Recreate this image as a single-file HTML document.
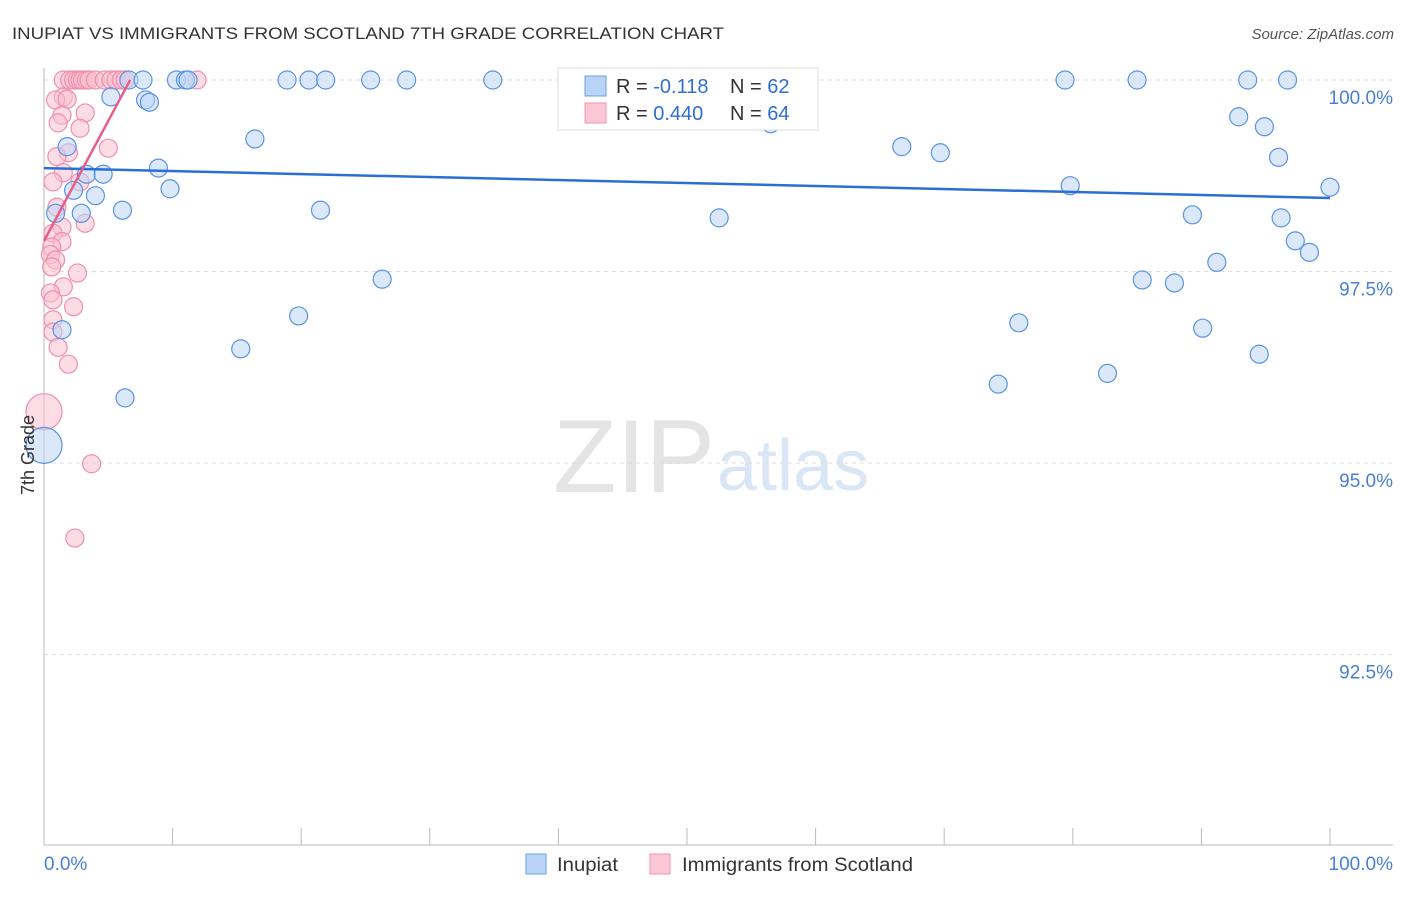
<!DOCTYPE html>
<html><head><meta charset="utf-8">
<style>
body{margin:0;background:#fff;font-family:"Liberation Sans",sans-serif;}
svg text{font-family:"Liberation Sans",sans-serif;}
</style></head>
<body>
<svg id="chart" width="1406" height="892" xmlns="http://www.w3.org/2000/svg">
<text x="12" y="39" font-size="17" fill="#333" textLength="712" lengthAdjust="spacingAndGlyphs">INUPIAT VS IMMIGRANTS FROM SCOTLAND 7TH GRADE CORRELATION CHART</text>
<text x="1394" y="39" font-size="15" fill="#555" text-anchor="end" font-style="italic">Source: ZipAtlas.com</text>
<g>
<text x="553" y="492" font-size="104" fill="#e4e4e4" font-family="Liberation Serif,serif" textLength="162" lengthAdjust="spacingAndGlyphs">ZIP</text>
<text x="717" y="490" font-size="72" fill="#dae6f6">atlas</text>
</g>
<g id="grid"></g>
<g id="axes"></g>
<g id="marks"></g>
<text transform="translate(34,455) rotate(-90)" font-size="18" fill="#333" text-anchor="middle">7th Grade</text>
<g>
<rect x="558" y="68" width="260" height="62" fill="#fff" stroke="#ddd"/>
<rect x="585" y="76" width="21" height="20" fill="#b8d3f5" stroke="#6a9fe0"/>
<rect x="585" y="103" width="21" height="20" fill="#fbc6d5" stroke="#ef94b0"/>
<text x="616" y="93" font-size="20" fill="#333">R = <tspan fill="#2f6fd0"> -0.118</tspan></text>
<text x="730" y="93" font-size="20" fill="#333">N = <tspan fill="#2f6fd0"> 62</tspan></text>
<text x="616" y="120" font-size="20" fill="#333">R = <tspan fill="#2f6fd0">0.440</tspan></text>
<text x="730" y="120" font-size="20" fill="#333">N = <tspan fill="#2f6fd0">64</tspan></text>
</g>
<g>
<rect x="526" y="854" width="20" height="20" fill="#b8d3f5" stroke="#6a9fe0"/>
<text x="557" y="871" font-size="19" fill="#333" textLength="61" lengthAdjust="spacingAndGlyphs">Inupiat</text>
<rect x="650" y="854" width="20" height="20" fill="#fbc6d5" stroke="#ef94b0"/>
<text x="682" y="871" font-size="19" fill="#333" textLength="231" lengthAdjust="spacingAndGlyphs">Immigrants from Scotland</text>
</g>
</svg>
<script>
const yTicks=[100,97.5,95,92.5];
const yTickLabels=["100.0%","97.5%","95.0%","92.5%"];
const blueX=[6.6,7.7,10.3,11.0,11.2,18.9,20.6,21.9,25.4,28.2,34.9,47.1,79.4,85.0,93.6,96.7,5.2,7.9,8.2,58.6,56.5,16.4,1.8,66.7,69.7,92.9,94.9,96.0,8.9,3.3,4.6,9.8,2.3,4.0,79.8,100,6.1,0.9,2.9,21.5,52.5,89.3,96.2,97.3,98.4,91.2,26.3,85.4,87.9,19.8,1.4,75.8,90.1,15.3,94.5,74.2,82.7,6.3,0];
const blueY=[100,100,100,100,100,100,100,100,100,100,100,100,100,100,100,100,99.78,99.74,99.71,99.83,99.43,99.23,99.13,99.13,99.05,99.52,99.39,98.99,98.85,98.77,98.77,98.58,98.56,98.49,98.62,98.60,98.30,98.26,98.26,98.30,98.20,98.24,98.20,97.90,97.75,97.62,97.40,97.39,97.35,96.92,96.74,96.83,96.76,96.49,96.42,96.03,96.17,95.85,95.23];
const pinkX=[1.5,2.0,2.3,2.6,2.8,3.0,3.3,3.5,4.0,4.7,5.2,5.6,6.0,6.3,11.9,1.5,0.9,1.8,3.2,1.4,1.1,2.8,5.0,1.9,1.0,1.5,0.7,2.8,1.0,3.2,1.4,0.7,1.4,0.6,0.5,0.9,0.6,2.6,1.5,0.5,0.7,2.3,0.7,0.7,1.1,1.9,0,3.7,2.4];
const pinkY=[100,100,100,100,100,100,100,100,100,100,100,100,100,100,100,99.78,99.74,99.75,99.57,99.54,99.44,99.37,99.11,99.05,99.0,98.79,98.67,98.67,98.34,98.13,98.08,98.0,97.89,97.82,97.72,97.65,97.56,97.48,97.30,97.22,97.13,97.04,96.87,96.71,96.51,96.29,95.67,94.99,94.02];
const blueTrend=[[0,98.85],[100,98.46]];
const pinkTrend=[[0,97.9],[6.7,100]];
const NS="http://www.w3.org/2000/svg";
const xs=v=>44+v*12.86;
const ys=v=>80+(100-v)*76.6;
function mk(tag,attrs,parent){const e=document.createElementNS(NS,tag);for(const k in attrs)e.setAttribute(k,attrs[k]);parent.appendChild(e);return e;}
const grid=document.getElementById('grid'),axes=document.getElementById('axes'),marks=document.getElementById('marks');
yTicks.forEach((t,i)=>{
 const l=mk('line',{x1:44,x2:1393,y1:ys(t),y2:ys(t),stroke:'#ddd','stroke-dasharray':'4,4'},grid);
 
 
 const tx=mk('text',{x:1393,y:ys(t)+24,'font-size':19,fill:'#4a7fd6','text-anchor':'end'},axes);
 tx.textContent=yTickLabels[i];
 
 
});
const ax=mk('line',{x1:44,x2:44,y1:68,y2:845,stroke:'#bbb'},axes);


const bx=mk('line',{x1:44,x2:1393,y1:845,y2:845,stroke:'#bbb'},axes);


for(let i=0;i<=10;i++){
 const t=mk('line',{x1:xs(i*10),x2:xs(i*10),y1:828,y2:845,stroke:'#bbb'},axes);
 
 
}
const xl0=mk('text',{x:44,y:870,'font-size':19,fill:'#4a7fd6'},axes);xl0.textContent='0.0%';


const xl1=mk('text',{x:1393,y:870,'font-size':19,fill:'#4a7fd6','text-anchor':'end'},axes);xl1.textContent='100.0%';


function dots(X,Y,fill,stroke,name,bigIdx){
 X.forEach((x,i)=>{
  const r=(i===bigIdx)?18:9;
  const c=mk('circle',{cx:xs(x),cy:ys(Y[i]),r:r,fill:fill,'fill-opacity':0.55,stroke:stroke,'stroke-width':1.2},marks);
  
  
 });
}
dots(pinkX,pinkY,'#f9bfd0','#ef8fab','scotland-point',pinkX.length-3);
dots(blueX,blueY,'#bcd5f5','#5b93e0','inupiat-point',blueX.length-1);
const bl=mk('line',{x1:xs(blueTrend[0][0]),y1:ys(blueTrend[0][1]),x2:xs(blueTrend[1][0]),y2:ys(blueTrend[1][1]),stroke:'#2b6fd6','stroke-width':2.5},marks);


const pl=mk('line',{x1:xs(pinkTrend[0][0]),y1:ys(pinkTrend[0][1]),x2:xs(pinkTrend[1][0]),y2:ys(pinkTrend[1][1]),stroke:'#e4608a','stroke-width':2.5},marks);


</script>
</body></html>
